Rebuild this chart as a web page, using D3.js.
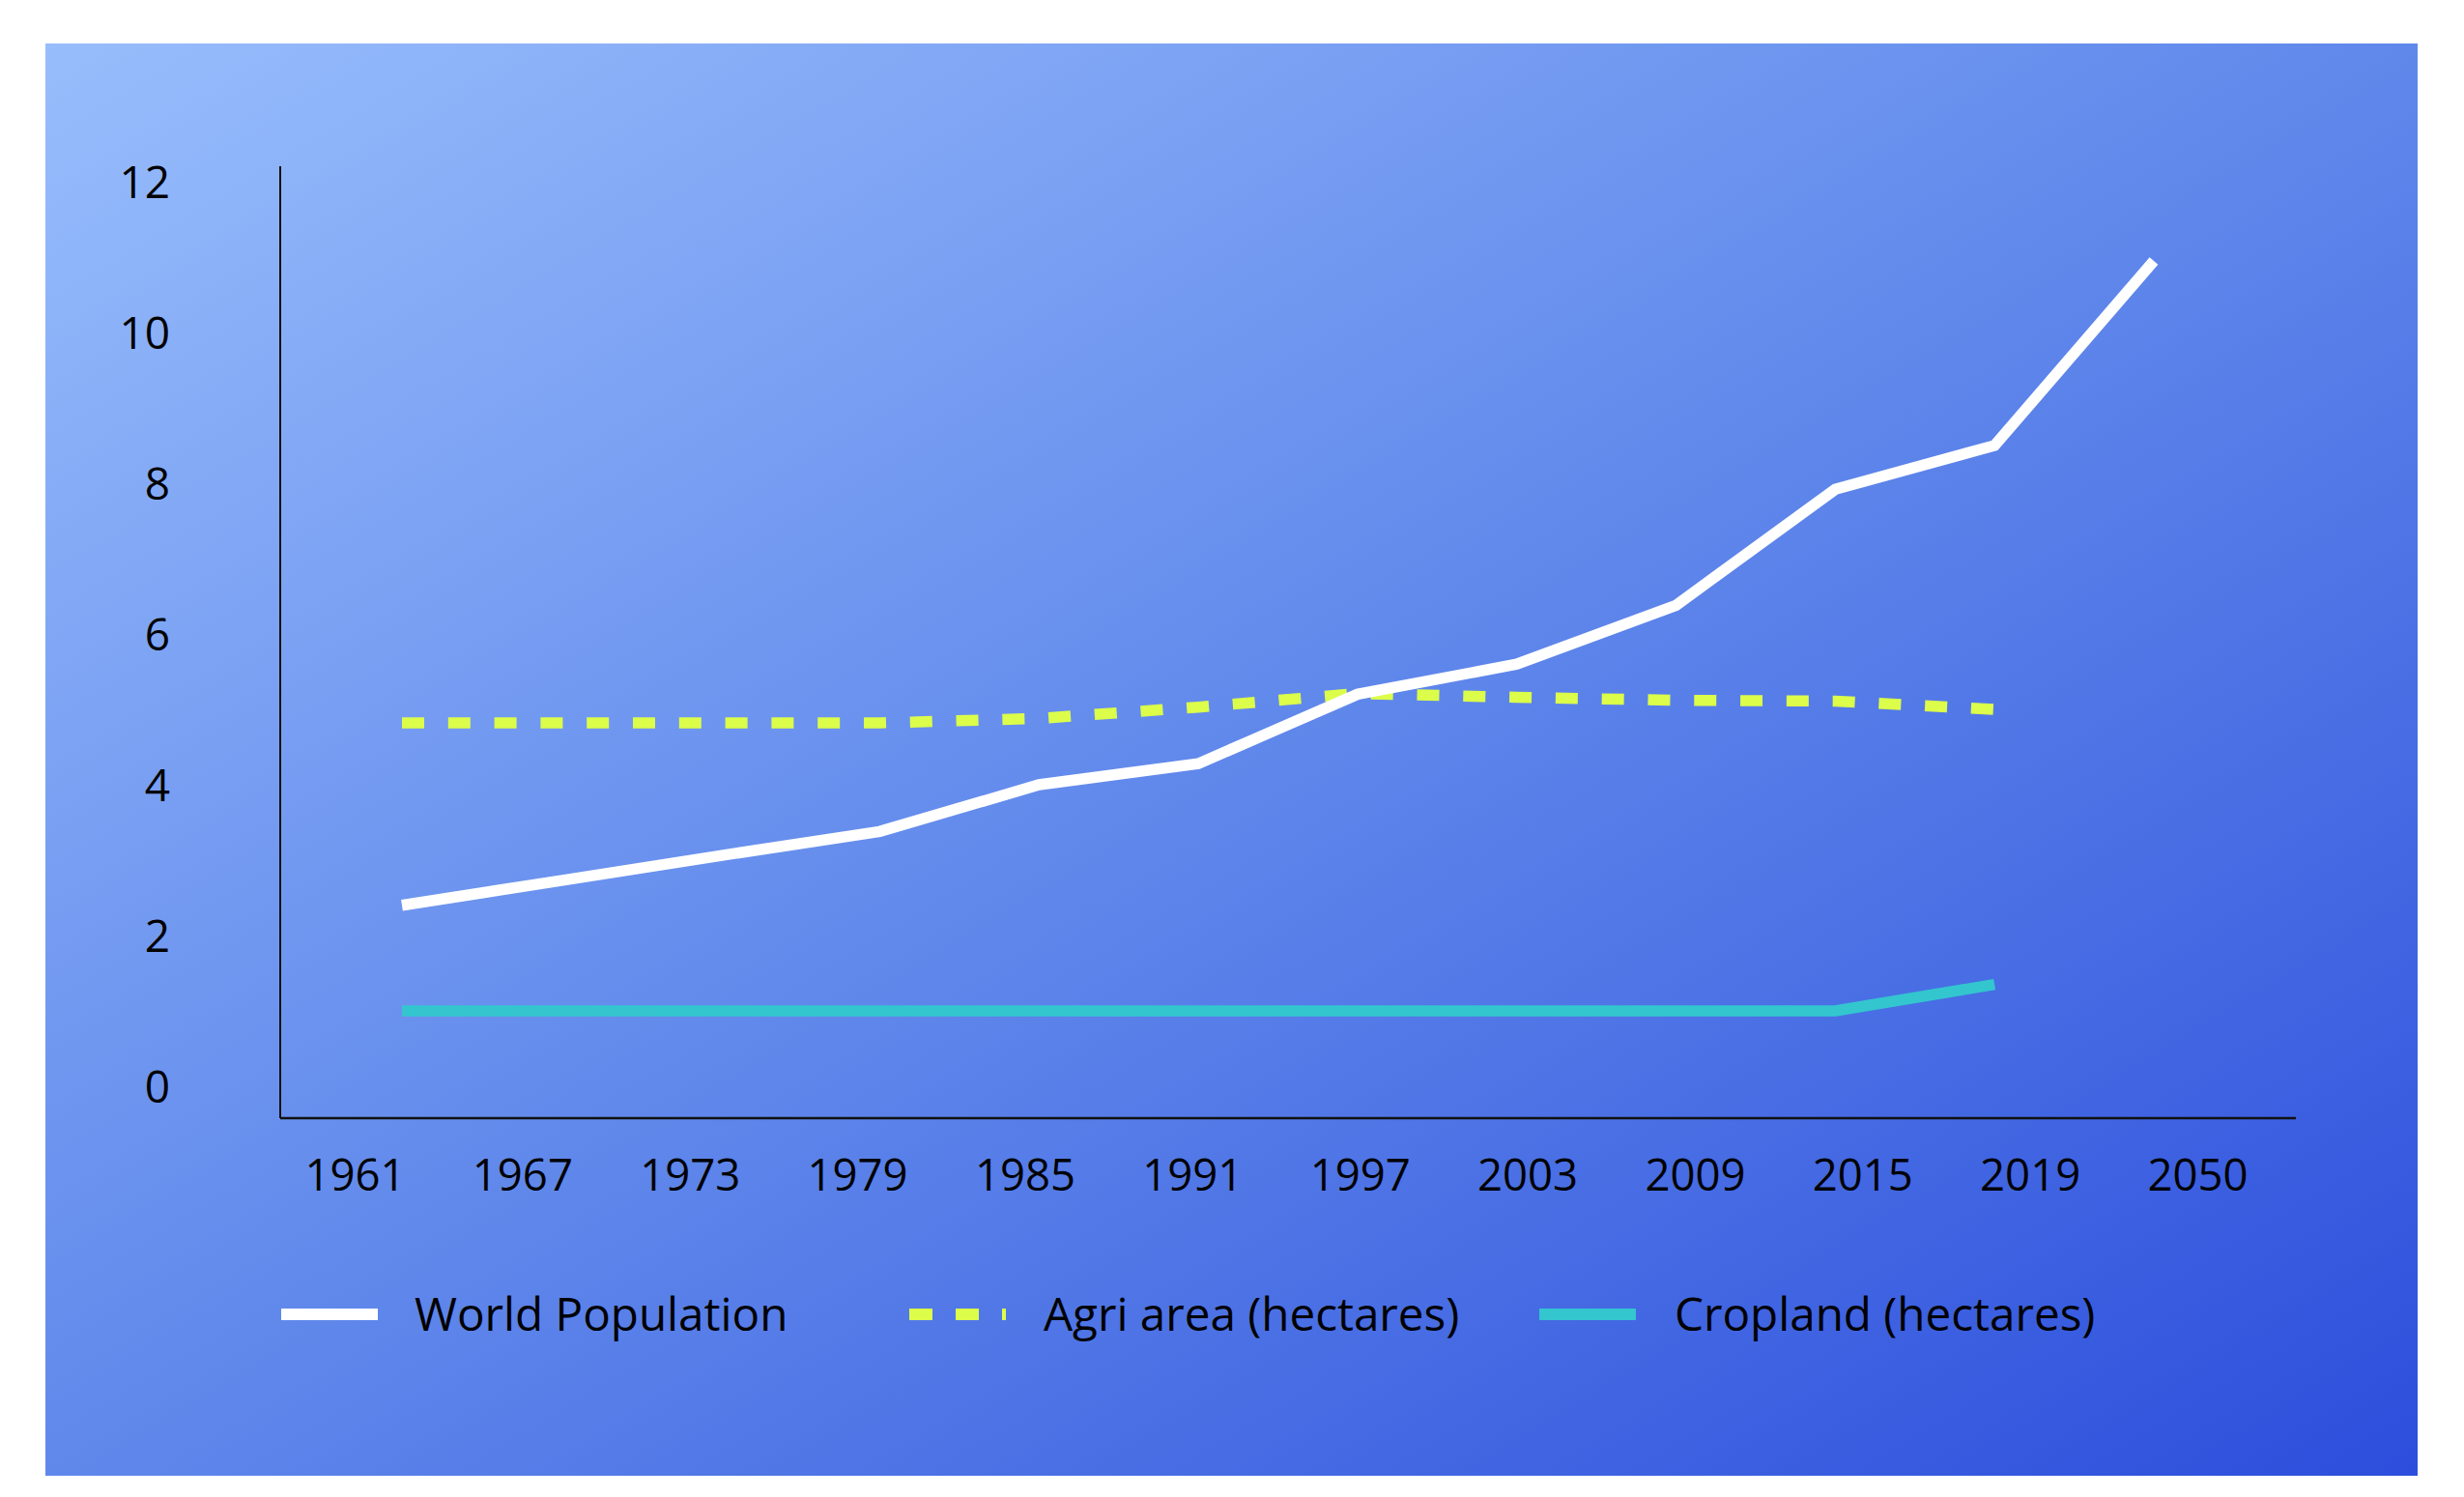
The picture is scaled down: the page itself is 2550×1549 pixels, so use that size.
<!DOCTYPE html>
<html>
<head>
<meta charset="utf-8">
<script src="https://cdn.jsdelivr.net/npm/d3@7"></script>
<style>
  html, body { margin: 0; padding: 0; background: #ffffff; }
  svg { display: block; }
  text { font-family: "Open Sans", "Noto Sans", sans-serif; fill: #000; }
</style>
</head>
<body>
<script>
// ---- data ----
const years = ["1961","1967","1973","1979","1985","1991","1997","2003","2009","2015","2019","2050"];
const worldPopulation = [2.4, 2.73, 3.06, 3.38, 4.0, 4.28, 5.2, 5.6, 6.38, 7.92, 8.5, 10.95];
const agriArea = [4.82, 4.82, 4.82, 4.82, 4.88, 5.03, 5.21, 5.16, 5.12, 5.11, 5.0, null];
const cropland = [1, 1, 1, 1, 1, 1, 1, 1, 1, 1, 1.35, null];
const yTicks = [0, 2, 4, 6, 8, 10, 12];
const seriesNames = ["World Population", "Agri area (hectares)", "Cropland (hectares)"];

// ---- layout ----
const W = 2550, H = 1549;
const svg = d3.select("body").append("svg").attr("width", W).attr("height", H);

const defs = svg.append("defs");
const grad = defs.append("linearGradient").attr("id", "bg")
  .attr("x1", "0").attr("y1", "0").attr("x2", "1").attr("y2", "1");
grad.append("stop").attr("offset", "0%").attr("stop-color", "#98bdfc");
grad.append("stop").attr("offset", "50%").attr("stop-color", "#6088eb");
grad.append("stop").attr("offset", "100%").attr("stop-color", "#2c4edc");

svg.append("rect").attr("x", 47).attr("y", 45).attr("width", 2455).attr("height", 1482)
  .attr("fill", "url(#bg)");

const axisX0 = 290, axisX1 = 2376, axisYTop = 172, axisYBottom = 1157;

const y = d3.scaleLinear().domain([0, 12]).range([1124, 188]);
const xLine = d3.scalePoint().domain(years).range([416, 2229]);
const xLabel = d3.scalePoint().domain(years).range([367, 2274]);

// axis frame lines
svg.append("line").attr("x1", axisX0).attr("x2", axisX0).attr("y1", axisYTop).attr("y2", axisYBottom)
  .attr("stroke", "#111").attr("stroke-width", 2);
svg.append("line").attr("x1", axisX0).attr("x2", axisX1).attr("y1", axisYBottom).attr("y2", axisYBottom)
  .attr("stroke", "#111").attr("stroke-width", 2.5);

// y axis labels
const gy = svg.append("g").attr("transform", `translate(${axisX0},0)`)
  .call(d3.axisLeft(y).tickValues(yTicks).tickSize(0).tickPadding(114).tickFormat(d3.format("d")));
gy.select(".domain").remove();
gy.selectAll("text").attr("font-size", 46).attr("font-family", "Open Sans").attr("fill", "#000")
  .attr("dy", "0.36em");

// x axis labels
const gx = svg.append("g").attr("transform", `translate(0,${axisYBottom})`)
  .call(d3.axisBottom(xLabel).tickSize(0));
gx.select(".domain").remove();
gx.selectAll("text").attr("font-size", 45.5).attr("font-family", "Open Sans").attr("fill", "#000")
  .attr("y", 59).attr("dy", "0.36em");

// lines
const line = d3.line()
  .defined(d => d.v != null)
  .x(d => xLine(d.year))
  .y(d => y(d.v));

function toPts(arr) { return years.map((yr, i) => ({ year: yr, v: arr[i] })); }

svg.append("path").datum(toPts(cropland)).attr("d", line)
  .attr("fill", "none").attr("stroke", "#33c6cf").attr("stroke-width", 11.5)
  .attr("stroke-linejoin", "miter").attr("stroke-linecap", "butt");

svg.append("path").datum(toPts(agriArea)).attr("d", line)
  .attr("fill", "none").attr("stroke", "#dcfd4a").attr("stroke-width", 11.5)
  .attr("stroke-dasharray", "23 24.8").attr("stroke-linecap", "butt");

svg.append("path").datum(toPts(worldPopulation)).attr("d", line)
  .attr("fill", "none").attr("stroke", "#ffffff").attr("stroke-width", 11.5)
  .attr("stroke-linejoin", "miter").attr("stroke-linecap", "butt");

// legend
const legendY = 1360;
const legendItems = [
  { name: seriesNames[0], color: "#ffffff", dash: null, x: 291, tx: 429 },
  { name: seriesNames[1], color: "#dcfd4a", dash: "24 24", x: 941, tx: 1080 },
  { name: seriesNames[2], color: "#33c6cf", dash: null, x: 1593, tx: 1733 }
];
const lg = svg.append("g");
legendItems.forEach(it => {
  lg.append("line").attr("x1", it.x).attr("x2", it.x + 100).attr("y1", legendY).attr("y2", legendY)
    .attr("stroke", it.color).attr("stroke-width", 12)
    .attr("stroke-dasharray", it.dash);
  lg.append("text").attr("x", it.tx).attr("y", legendY).attr("dy", "0.36em")
    .attr("font-size", 47.6).text(it.name);
});
</script>
</body>
</html>
